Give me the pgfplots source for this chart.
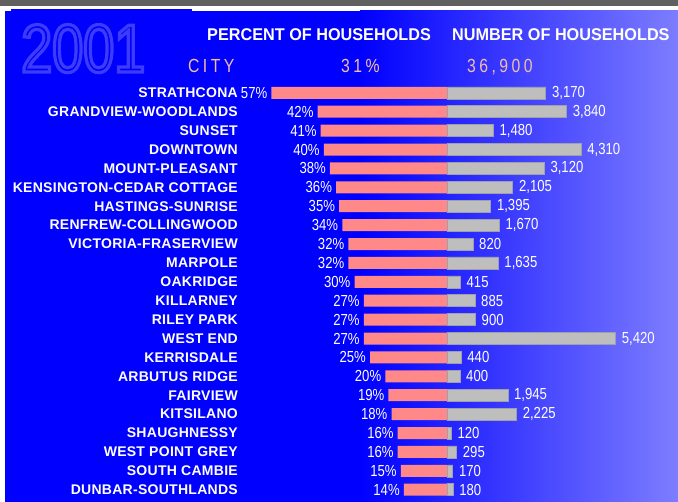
\documentclass[border=0pt]{standalone}
\usepackage{pgfplots}
\usepackage{pgfplotstable}
\pgfplotsset{compat=1.18}
\usepackage{fontspec}
\setmainfont{Liberation Sans}
\newfontfamily\lblfont[LetterSpace=2]{Liberation Sans}
\newfontfamily\numfont[FakeStretch=0.82]{Liberation Sans}
\newfontfamily\headfont[FakeStretch=0.955]{Liberation Sans}
\newfontfamily\cityfont[FakeStretch=0.83,LetterSpace=18]{Liberation Sans}
\newfontfamily\yearfont[FakeStretch=0.82]{Liberation Sans}

\definecolor{bgblue}{RGB}{0,0,255}
\definecolor{bglight}{RGB}{125,125,255}
\definecolor{pinkbar}{RGB}{255,136,136}
\definecolor{graybar}{RGB}{190,190,190}
\definecolor{grayedge}{RGB}{160,160,170}
\definecolor{peach}{RGB}{242,190,170}
\definecolor{topgray}{RGB}{96,96,96}
\definecolor{yearblue}{RGB}{60,60,250}

% idx = row, pct = percent of households, hh = number of households
\pgfplotstableread{
idx pct hh
0  57 3170
1  42 3840
2  41 1480
3  40 4310
4  38 3120
5  36 2105
6  35 1395
7  34 1670
8  32 820
9  32 1635
10 30 415
11 27 885
12 27 900
13 27 5420
14 25 440
15 20 400
16 19 1945
17 18 2225
18 16 120
19 16 295
20 15 170
21 14 180
}\data

\pgfplotsset{
  rowaxis/.style={
    at={(0,0)}, anchor=north west,
    scale only axis, width=678bp, height=502bp,
    ymin=-4.910, ymax=21.651, y dir=reverse,
    axis line style={draw=none}, tick style={draw=none},
    xtick=\empty, clip=false,
  },
}

\begin{document}
\begin{tikzpicture}[x=1bp,y=-1bp]
% background
\fill[white] (0,0) rectangle (678,502);
\fill[topgray] (0,0) rectangle (678,6);
\fill[bgblue] (5,11) rectangle (361,502);
\shade[left color=bgblue, right color=bglight] (360,11) rectangle (678,502);
\fill[bgblue] (11,9) rectangle (192,11);

% title bits
\node[anchor=base west, inner sep=0, text=yearblue, font=\yearfont\fontsize{68bp}{68bp}\selectfont] at (21,72)
  {\special{pdf:literal direct 1 Tr 3.2 w}2001\special{pdf:literal direct 0 Tr}};
\node[anchor=base west, inner sep=0, text=white, font=\headfont\bfseries\fontsize{17bp}{17bp}\selectfont] at (207,41) {PERCENT OF HOUSEHOLDS};
\node[anchor=base west, inner sep=0, text=white, font=\headfont\bfseries\fontsize{17bp}{17bp}\selectfont] at (452,41) {NUMBER OF HOUSEHOLDS};
\node[anchor=base west, inner sep=0, text=peach, font=\cityfont\fontsize{19bp}{19bp}\selectfont] at (188,73) {CITY};
\node[anchor=base west, inner sep=0, text=peach, font=\cityfont\fontsize{19bp}{19bp}\selectfont] at (341,73) {31\%};
\node[anchor=base west, inner sep=0, text=peach, font=\cityfont\fontsize{19bp}{19bp}\selectfont] at (467,73) {36,900};

% percent of households (bars to the left)
\begin{axis}[rowaxis,
  xmin=-145.13, xmax=75.0,
  ytick={0,...,21},
  yticklabels={STRATHCONA,GRANDVIEW-WOODLANDS,SUNSET,DOWNTOWN,MOUNT-PLEASANT,
    KENSINGTON-CEDAR COTTAGE,HASTINGS-SUNRISE,RENFREW-COLLINGWOOD,VICTORIA-FRASERVIEW,
    MARPOLE,OAKRIDGE,KILLARNEY,RILEY PARK,WEST END,KERRISDALE,ARBUTUS RIDGE,
    FAIRVIEW,KITSILANO,SHAUGHNESSY,WEST POINT GREY,SOUTH CAMBIE,DUNBAR-SOUTHLANDS},
  yticklabel style={anchor=east, inner sep=0pt, xshift=238bp, text=white,
    font=\lblfont\bfseries\fontsize{14bp}{14bp}\selectfont},
]
\addplot[xbar, bar width=0.635, bar shift=0pt, fill=pinkbar, draw=none,
  point meta=explicit,
  nodes near coords={\pgfmathprintnumber[assume math mode=true]{\pgfplotspointmeta}\%},
  every node near coord/.append style={anchor=east, inner sep=0pt, xshift=-4bp,
    text=white, font=\numfont\fontsize{16bp}{16bp}\selectfont},
] table[x expr=-\thisrow{pct}, y=idx, meta=pct] {\data};
\end{axis}

% number of households (bars to the right)
\begin{axis}[rowaxis,
  xmin=-14435, xmax=7435,
  ytick=\empty,
]
\addplot[xbar, bar width=0.635, bar shift=0pt, fill=graybar, draw=grayedge, line width=0.6bp,
  point meta=explicit,
  nodes near coords={\pgfmathprintnumber[assume math mode=true, 1000 sep={,}]{\pgfplotspointmeta}},
  every node near coord/.append style={anchor=west, inner sep=0pt, xshift=6bp,
    text=white, font=\numfont\fontsize{16bp}{16bp}\selectfont},
] table[x=hh, y=idx, meta=hh] {\data};
\end{axis}
\end{tikzpicture}
\end{document}
